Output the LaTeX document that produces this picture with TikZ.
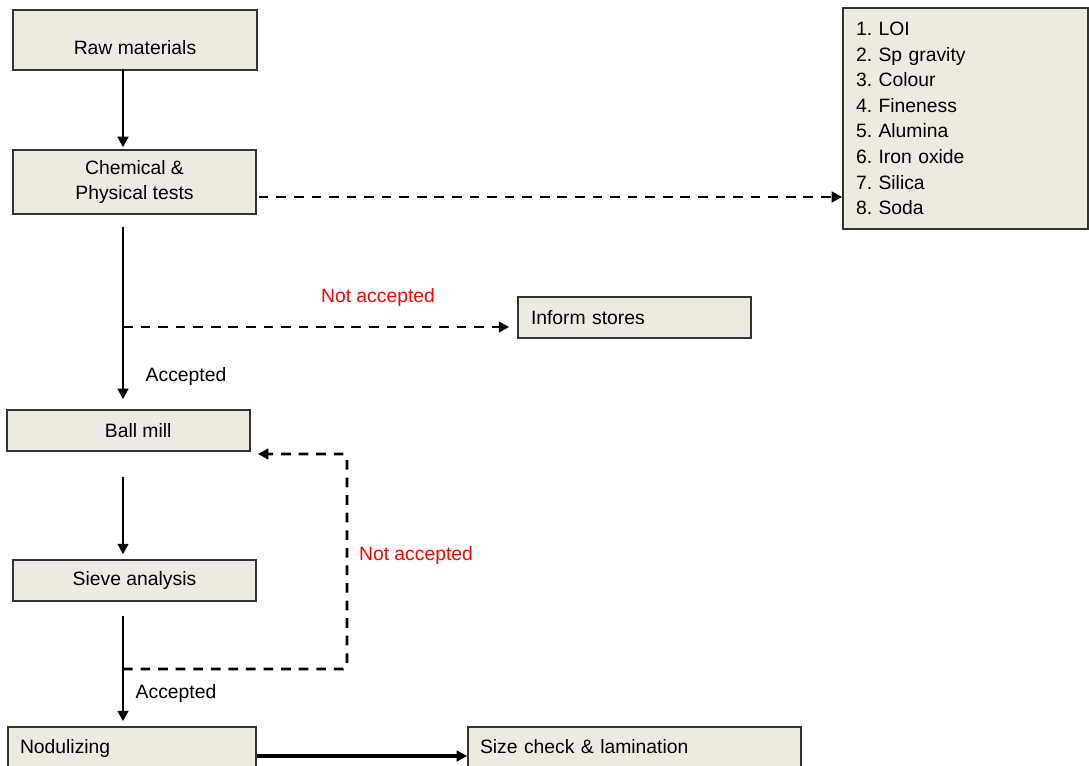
\documentclass[tikz,border=0pt]{standalone}
\usepackage{fontspec}
\setmainfont{Liberation Sans}
\usetikzlibrary{positioning,arrows.meta,calc}
\definecolor{boxfill}{RGB}{237,234,224}
\definecolor{notred}{RGB}{255,0,0}
\frenchspacing

\begin{document}
\begin{tikzpicture}[x=0.02cm,y=-0.02cm,
	box/.style={draw=black!80,line width=0.9pt,fill=boxfill,rectangle,inner sep=0pt,
		font=\fontsize{11}{14.6}\selectfont,align=center},
	leftbox/.style={box,align=left},
	flow/.style={line width=1.5pt,-{Triangle[length=6pt,width=6pt]}},
	dashflow/.style={line width=1.5pt,dash pattern=on 5.5pt off 4.5pt,-{Triangle[length=6pt,width=6pt]}},
	lab/.style={font=\fontsize{11}{13}\selectfont,inner sep=0pt},
	redlab/.style={lab,text=notred}]
	\useasboundingbox (0,0) rectangle (1089,765);
	\clip (0,0) rectangle (1089,765);
	% boxes
	\node[box,minimum width=244*0.02cm,minimum height=60*0.02cm,text height=19pt,text depth=2pt] (raw) at (135,40) {Raw materials};
	\node[box,minimum width=243*0.02cm,minimum height=64*0.02cm] (chem) at (134.5,182) {Chemical \&\\Physical tests};
	\node[leftbox,minimum width=245*0.02cm,minimum height=221*0.02cm,text width=219*0.02cm] (list) at (965.5,118.5)
		{1. LOI\\2. Sp gravity\\3. Colour\\4. Fineness\\5. Alumina\\6. Iron oxide\\7. Silica\\8. Soda};
	\node[leftbox,minimum width=233*0.02cm,minimum height=41*0.02cm,text width=207*0.02cm] (inform) at (634.5,317.5) {Inform stores};
	\node[box,minimum width=243*0.02cm,minimum height=41*0.02cm] (ball) at (128.5,430.5) {\hspace*{11pt}Ball mill};
	\node[box,minimum width=243*0.02cm,minimum height=41*0.02cm] (sieve) at (134.5,580.5) {Sieve analysis};
	\node[leftbox,minimum width=248*0.02cm,minimum height=76*0.02cm,text width=224*0.02cm,
		text height=8pt,text depth=21.6pt] (nod) at (132,765) {Nodulizing};
	\node[leftbox,minimum width=333*0.02cm,minimum height=76*0.02cm,text width=309*0.02cm,
		text height=8pt,text depth=21.6pt] (size) at (634.5,765) {Size check \& lamination};
	% helper points
	\coordinate (spine) at (123,0);
	\coordinate (j1) at (123,327);
	\coordinate (j2) at (123,669);
	\coordinate (loop) at (347,454);
	\coordinate (c1) at ($(chem.east)+(2,15)$);
	\coordinate (c2) at (nod.east |- 0,756);
	% connectors
	\draw[flow,shorten <=-1pt,shorten >=1.1pt] (raw.south -| spine) -- (chem.north -| spine);
	\draw[dashflow] (c1) -- (c1 -| list.west);
	\draw[flow,shorten <=6.8pt,shorten >=5.7pt] (chem.south -| spine) -- (ball.north -| spine);
	\draw[dashflow,shorten >=4.5pt] (j1) -- (j1 -| inform.west);
	\draw[flow,shorten <=14.2pt,shorten >=2.8pt] (ball.south -| spine) -- (sieve.north -| spine);
	\draw[flow,shorten <=7.9pt,shorten >=2.8pt] (sieve.south -| spine) -- (nod.north -| spine);
	\draw[dashflow,rounded corners=2pt,shorten >=4pt] (j2) -| (loop) -- (loop -| ball.east);
	\draw[flow,line width=2pt] (c2) -- (c2 -| size.west);
	% labels
	\node[redlab] (na1) at (378,297) {Not accepted};
	\node[lab] (acc1) at (186,376) {Accepted};
	\node[redlab] (na2) at (416,555) {Not accepted};
	\node[lab] (acc2) at (176,693) {Accepted};
\end{tikzpicture}
\end{document}
